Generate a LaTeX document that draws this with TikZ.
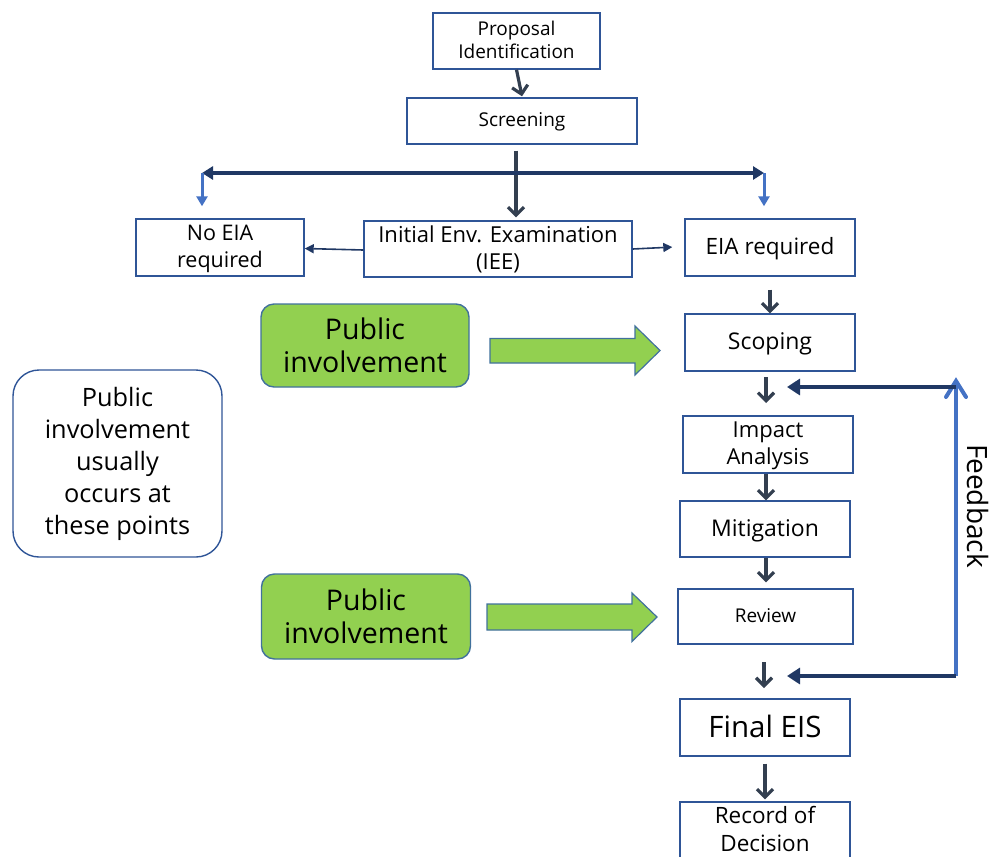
\documentclass[tikz,border=0pt]{standalone}
\usepackage{fontspec}
\setmainfont{Open Sans}
\usetikzlibrary{arrows.meta}
\definecolor{boxc}{HTML}{2F5597}
\definecolor{arrc}{HTML}{333F50}
\definecolor{navy}{HTML}{203864}
\definecolor{lblue}{HTML}{4472C4}
\definecolor{pgreen}{HTML}{92D050}
\definecolor{pborder}{HTML}{41719C}
\tikzset{
  box/.style={draw=boxc, line width=1.4pt, rectangle, align=center, inner sep=0pt, text=black, text depth=0.25em},
  pubbox/.style={draw=pborder, line width=1.4pt, fill=pgreen, rounded corners=13pt, align=center, inner sep=0pt},
  notebox/.style={draw=boxc, line width=1.4pt, rounded corners=26pt, align=center, inner sep=0pt},
  dk/.style={draw=arrc, line width=3.2pt, -{Straight Barb[length=8pt,width=16pt]}},
  thk/.style={draw=navy, line width=3.8pt},
  thin/.style={draw=navy, line width=1.6pt, -{Triangle[length=9pt,width=9pt]}},
  bl/.style={draw=lblue, line width=3pt, -{Triangle[length=10pt,width=11pt]}},
  garrow/.style={draw=pborder, line width=1.2pt, fill=pgreen},
}
\begin{document}
\begin{tikzpicture}[x=1pt,y=-1pt]
\useasboundingbox (0,0) rectangle (994,857);
% boxes
\node[box, minimum width=167pt, minimum height=56pt, font=\fontsize{19}{23}\selectfont] (prop) at (516.5,41) {Proposal\\Identification};
\node[box, minimum width=230pt, minimum height=46pt, font=\fontsize{19}{23}\selectfont] (scr) at (522,121) {Screening};
\node[box, minimum width=168pt, minimum height=57pt, font=\fontsize{21.5}{27}\selectfont] (noeia) at (220,247.5) {No EIA\\required};
\node[box, minimum width=268pt, minimum height=56pt, font=\fontsize{22}{27}\selectfont] (iee) at (498,249) {Initial Env. Examination\\(IEE)};
\node[box, minimum width=170pt, minimum height=57pt, font=\fontsize{22.5}{27}\selectfont] (eia) at (770,247.5) {EIA required};
\node[box, minimum width=170pt, minimum height=57pt, font=\fontsize{23}{27}\selectfont] (scop) at (770,342.5) {Scoping};
\node[box, minimum width=170pt, minimum height=57pt, font=\fontsize{22}{27}\selectfont] (imp) at (768,444.5) {Impact\\Analysis};
\node[box, minimum width=170pt, minimum height=56pt, font=\fontsize{23}{27}\selectfont] (mit) at (765,529) {Mitigation};
\node[box, minimum width=175pt, minimum height=55pt, font=\fontsize{19}{23}\selectfont] (rev) at (765.5,616.5) {Review};
\node[box, minimum width=170pt, minimum height=57pt, font=\fontsize{29.5}{35}\selectfont] (final) at (765,727.5) {Final EIS};
\node[box, minimum width=170pt, minimum height=56pt, font=\fontsize{22.5}{28}\selectfont] (rec) at (765,830) {Record of\\Decision};
% public involvement
\node[pubbox, minimum width=208pt, minimum height=83pt, font=\fontsize{28.5}{33}\selectfont] (pub1) at (365,345.5) {Public\\involvement};
\node[pubbox, minimum width=209pt, minimum height=85pt, font=\fontsize{28.5}{33}\selectfont] (pub2) at (366,616.5) {Public\\involvement};
\node[notebox, minimum width=209pt, minimum height=187pt, font=\fontsize{25.3}{32}\selectfont] (note) at (117.5,463.5) {Public\\involvement\\usually\\occurs at\\these points};
% green block arrows
\draw[garrow] (490,338.5) -- (635,338.5) -- (635,326) -- (660,350.5) -- (635,375) -- (635,363) -- (490,363) -- cycle;
\draw[garrow] (487,604) -- (632,604) -- (632,593) -- (657,617) -- (632,641.5) -- (632,630) -- (487,630) -- cycle;
% coordinates
\coordinate (sL) at (202,173);
\coordinate (sR) at (764,173);
\coordinate (sM) at (516,173);
\coordinate (fbT) at (956,387);
\coordinate (fbB) at (956,676);
\coordinate (fbTip) at (956,381);
\coordinate (a1s) at (766,377);
\coordinate (a1e) at (766,403);
\coordinate (a2s) at (764,662);
\coordinate (a2e) at (764,688);
\coordinate (fbTe) at (787,387);
\coordinate (fbBe) at (787,676);
\coordinate (am) at (766,0);
% connectors
\draw[dk] (prop.south) -- ([yshift=1pt]scr.north);
\draw[draw=arrc, line width=3.2pt, shorten <=6pt] (sM |- scr.south) -- (sM);
\draw[dk] (sM) -- ([yshift=3pt]sM |- iee.north);
\draw[thk, {Triangle[length=11pt,width=13pt]}-{Triangle[length=11pt,width=13pt]}] (sL) -- (sR);
\draw[bl] (sL) -- ([yshift=12pt]sL |- noeia.north);
\draw[bl] (sR) -- ([yshift=12pt]sR |- eia.north);
\draw[thin] ([yshift=-1pt]iee.west) -- ([yshift=-1pt]noeia.east);
\draw[thin, shorten >=12pt] (iee.east) -- ([yshift=1pt]eia.west);
\draw[dk, shorten <=13pt] (eia.south) -- (scop.north);
\draw[dk] (a1s) -- (a1e);
\draw[dk] (am |- imp.south) -- (am |- mit.north);
\draw[dk] (am |- mit.south) -- ([yshift=6pt]am |- rev.north);
\draw[dk] (a2s) -- (a2e);
\draw[dk, shorten <=7pt] (final.south) -- ([yshift=2pt]rec.north);
% feedback
\draw[draw=lblue, line width=4pt] (fbB) -- (fbTip);
\draw[draw=lblue, line width=4pt, line join=miter, line cap=round] ([xshift=-10pt,yshift=-16pt]fbTip) -- (fbTip) -- ([xshift=10pt,yshift=-16pt]fbTip);
\draw[thk, -{Triangle[length=13pt,width=16pt]}] (fbT) -- (fbTe);
\draw[thk, -{Triangle[length=13pt,width=16pt]}] (fbB) -- (fbBe);
\node[rotate=-90, font=\fontsize{28}{30}\selectfont, inner sep=0pt] (fb) at (978,506) {Feedback};
\end{tikzpicture}
\end{document}
